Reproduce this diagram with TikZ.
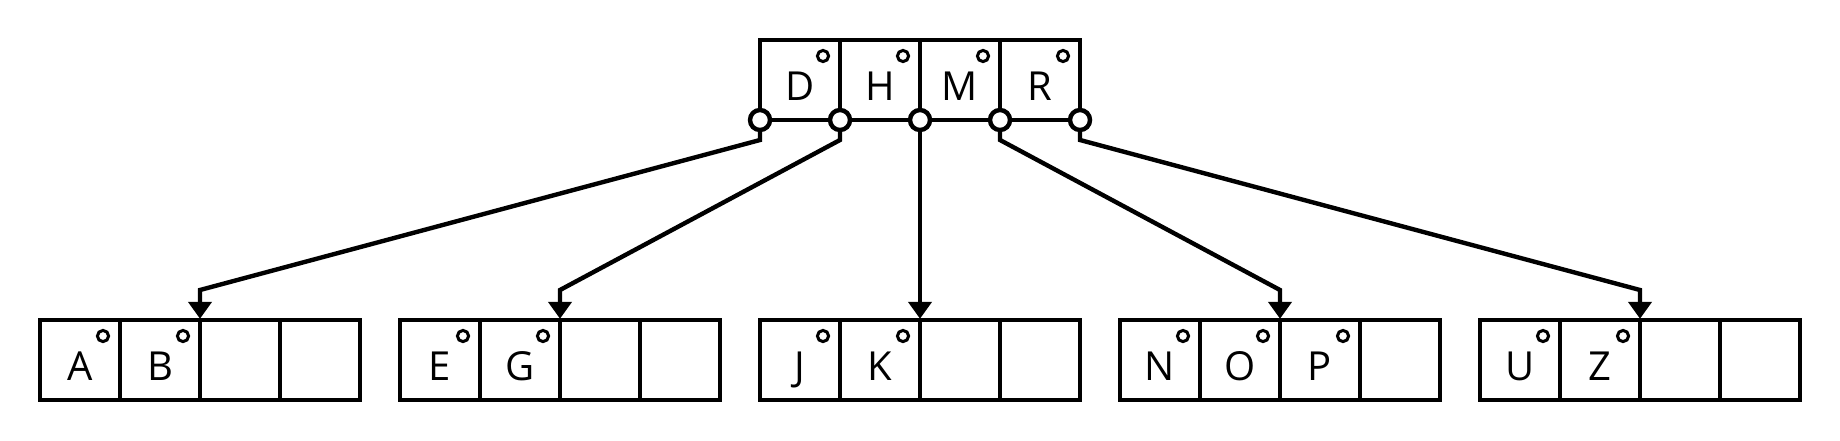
\documentclass[tikz,border=0pt]{standalone}
\usepackage{fontspec}
\setmainfont{Open Sans}
\usetikzlibrary{arrows.meta,calc}
\tikzset{
 cell/.style={draw, line width=2.2pt, minimum width=40pt, minimum height=40pt, inner sep=0pt, outer sep=0pt, anchor=north west},
 lbl/.style={anchor=base, inner sep=0pt, font=\fontsize{20}{24}\selectfont},
 dot/.style={circle, draw, line width=1.5pt, minimum size=5.6pt, inner sep=0pt},
 port/.style={circle, draw, fill=white, line width=2.2pt, minimum size=10pt, inner sep=0pt},
 conn/.style={line width=2.2pt, -{Triangle[width=11.5pt,length=8.5pt]}, shorten >=0.6pt},
}
\begin{document}
\begin{tikzpicture}[x=0.5pt,y=-0.5pt]
\useasboundingbox (0,0) rectangle (1840,440);
% root node
\foreach \l [count=\i from 0] in {D,H,M,R} {
  \node[cell] (t\i) at (760+80*\i,40) {};
  \node[lbl] (tl\i) at (800+80*\i,100) {\l};
  \node[dot] (td\i) at (823+80*\i,56) {};
}
% leaf nodes
\foreach \bx/\ls [count=\b from 0] in {40/{A,B},400/{E,G},760/{J,K},1120/{N,O,P},1480/{U,Z}} {
  \foreach \c in {0,...,3}
    \node[cell] (b\b-\c) at (\bx+80*\c,320) {};
  \foreach \l [count=\i from 0] in \ls {
    \node[lbl] (bl\b-\i) at (\bx+40+80*\i,380) {\l};
    \node[dot] (bd\b-\i) at (\bx+63+80*\i,336) {};
  }
}
% pointer ports
\foreach \i in {0,...,4}
  \node[port] (p\i) at (760+80*\i,120) {};
% connectors
\foreach \i in {0,...,4}
  \draw[conn] (p\i.south) -- ($(p\i)+(0,20)$) -- ($(b\i-2.north west)+(0,-30)$) -- (b\i-2.north west);
\end{tikzpicture}
\end{document}
